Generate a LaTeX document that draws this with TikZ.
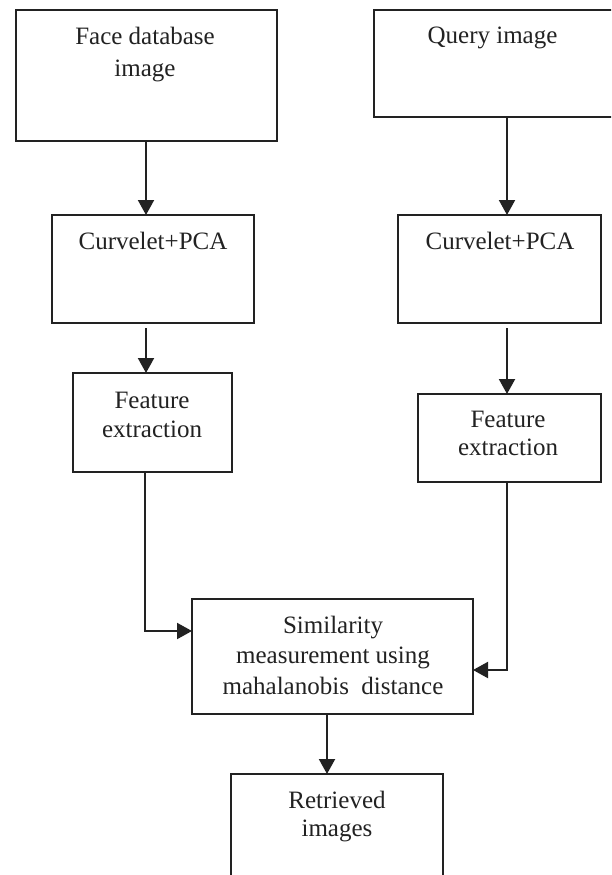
\documentclass[tikz,border=0pt]{standalone}
\usepackage{fontspec}
\setmainfont{Liberation Serif}
\usetikzlibrary{arrows.meta}
\definecolor{linec}{HTML}{222222}
\definecolor{textc}{HTML}{222222}
\begin{document}
\begin{tikzpicture}[x=1pt,y=-1pt,
  box/.style={draw=linec, line width=2pt, rectangle, inner sep=0pt, outer sep=0pt},
  lbl/.style={font=\fontsize{25}{30}\selectfont, text=textc, inner sep=0pt, align=center, anchor=north},
  arr/.style={draw=linec, line width=2pt, -{Triangle[length=15pt,width=16pt]}},
]
\useasboundingbox (0,0) rectangle (611,875);
\fill[white] (0,0) rectangle (611,875);
\clip (0,0) rectangle (611,875);

% boxes
\node[box, minimum width=261pt, minimum height=131pt] (face)  at (146.5,75.5) {};
\node[box, minimum width=240pt, minimum height=107pt] (query) at (494,63.5) {};
\node[box, minimum width=202pt, minimum height=108pt] (curvL) at (153,269) {};
\node[box, minimum width=203pt, minimum height=108pt] (curvR) at (499.5,269) {};
\node[box, minimum width=159pt, minimum height=99pt]  (featL) at (152.5,422.5) {};
\node[box, minimum width=183pt, minimum height=88pt]  (featR) at (509.5,438) {};
\node[box, minimum width=281pt, minimum height=115pt] (sim)   at (332.5,656.5) {};
\node[box, minimum width=212pt, minimum height=120pt] (ret)   at (337,834) {};

% labels
\node[lbl, font=\fontsize{25}{32}\selectfont] (tface) at (145,26.5) {Face database\\image};
\node[lbl] (tquery) at (492.5,26.5) {Query image};
\node[lbl] (tcurvL) at (153,231.5) {Curvelet+PCA};
\node[lbl] (tcurvR) at (500,231.5) {Curvelet+PCA};
\node[lbl, font=\fontsize{25}{29}\selectfont] (tfeatL) at (152,391.5) {Feature\\extraction};
\node[lbl, font=\fontsize{25}{28}\selectfont] (tfeatR) at (508,410.5) {Feature\\extraction};
\node[lbl, font=\fontsize{25}{30.5}\selectfont] (tsim) at (333,615.5) {Similarity\\measurement using\\mahalanobis\ \ distance};
\node[lbl, font=\fontsize{25}{28}\selectfont] (tret) at (337,790.5) {Retrieved\\images};

% connectors
\draw[arr] ([xshift=-0.5pt]face.south) -- ([xshift=-0.5pt]face.south |- curvL.north);
\draw[arr] ([xshift=13pt]query.south) -- ([xshift=13pt]query.south |- curvR.north);
\draw[arr] ([xshift=-7pt,yshift=-5pt]curvL.south) -- ([xshift=-7pt]curvL.south |- featL.north);
\draw[arr] ([xshift=7.5pt,yshift=-5pt]curvR.south) -- ([xshift=7.5pt]curvR.south |- featR.north);
\draw[arr] ([xshift=-7.5pt]featL.south) |- ([yshift=25.5pt]sim.west);
\draw[arr] ([xshift=-2.5pt]featR.south) |- ([yshift=-13.5pt]sim.east);
\draw[arr] ([xshift=-5.5pt]sim.south) -- ([xshift=-5.5pt]sim.south |- ret.north);
\end{tikzpicture}
\end{document}
